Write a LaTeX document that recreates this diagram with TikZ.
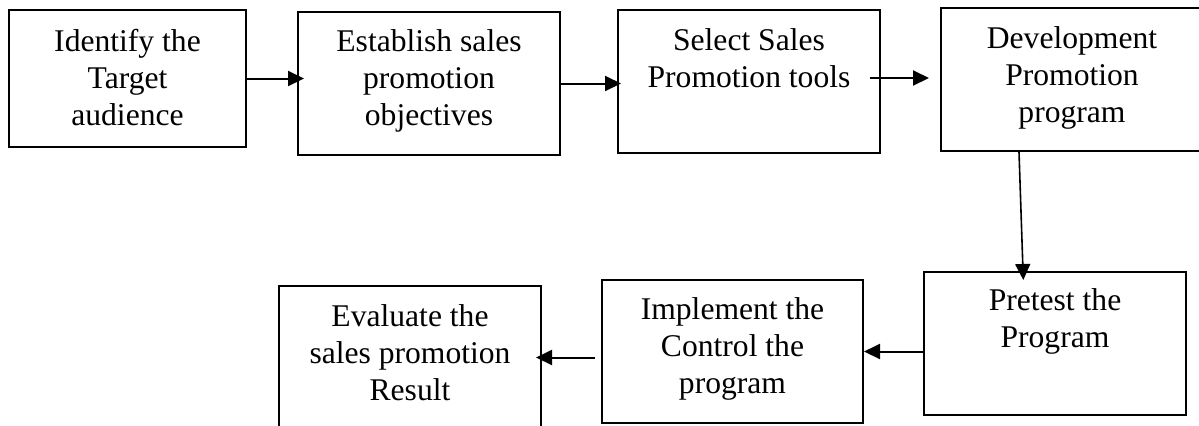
\documentclass[tikz,border=0pt]{standalone}
\usepackage{fontspec}
\setmainfont{Liberation Serif}
\usetikzlibrary{arrows.meta}
\tikzset{
  stage/.style={draw, line width=1pt, inner sep=0pt, align=center, anchor=north west,
    minimum width=131pt, text height=57pt, text depth=14.5pt,
    font=\fontsize{15.8pt}{18.5pt}\selectfont},
  twolines/.style={text height=38.5pt, text depth=33pt},
  flow/.style={line width=1pt, -{Triangle[length=8pt,width=7.5pt]}}
}
\begin{document}
\begin{tikzpicture}[x=0.5pt, y=-0.5pt]
  \useasboundingbox (0,0) rectangle (1199,425);
  % top row
  \node[stage, minimum width=118.5pt, text height=57.5pt, text depth=11pt] (target) at (8,9) {Identify the\\Target\\audience};
  \node[stage, text height=56.5pt, text depth=15pt] (objectives) at (297,11) {Establish sales\\promotion\\objectives};
  \node[stage, twolines] (tools) at (617,9) {Select Sales\\Promotion tools};
  \node[stage] (program) at (940,7) {Development\\Promotion\\program};
  % bottom row
  \node[stage, twolines, text height=37.5pt, text depth=34pt] (pretest) at (923,271) {Pretest the\\Program};
  \node[stage, minimum width=130.5pt, text height=56.5pt, text depth=15pt] (implement) at (601,279) {Implement the\\Control the\\program};
  \node[stage] (evaluate) at (278,285) {Evaluate the\\sales promotion\\Result};

  \draw[flow, shorten >=-3.5pt] (target.east) -- (target.east -| objectives.west);
  \draw[flow, shorten >=-2pt] (objectives.east) -- (objectives.east -| tools.west);
  \draw[flow, shorten <=-5.5pt, shorten >=5.5pt] ([yshift=1.75pt]tools.east) -- ([yshift=1.75pt]tools.east -| program.west);
  \draw[flow, line width=0.8pt, shorten >=-4.5pt] ([xshift=39.5pt]program.south west) -- ([xshift=50pt]pretest.north west);
  \draw[flow] (pretest.west |- implement.east) -- (implement.east);
  \draw[flow, shorten <=3pt, shorten >=-3pt] (implement.west |- evaluate.east) -- (evaluate.east);
\end{tikzpicture}
\end{document}
